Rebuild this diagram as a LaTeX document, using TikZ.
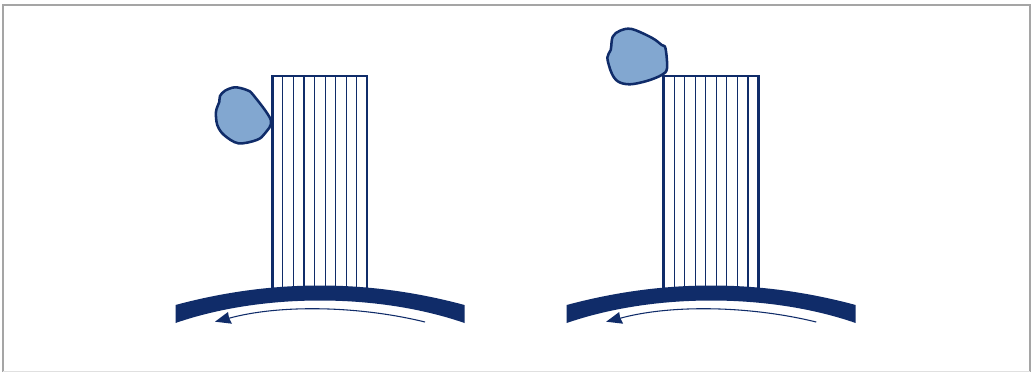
\documentclass[tikz,border=0pt]{standalone}
\definecolor{navy}{RGB}{16,44,105}
\definecolor{blobfill}{RGB}{130,167,208}
\definecolor{framegray}{RGB}{165,165,165}
\tikzset{
  x=0.75pt,y=-0.75pt,
  outline/.style={draw=navy,line width=1.9pt,line join=miter},
  hatch/.style={draw=navy,line width=0.85pt},
  blobshape/.style={draw=navy,fill=blobfill,line width=1.9pt,line join=round},
  band/.style={fill=navy,draw=none},
  flow/.style={draw=navy,line width=0.8pt},
  head/.style={fill=navy,draw=none}
}
\newcommand{\bristleunit}{%
  \foreach \k in {1,...,8}{\draw[hatch] ({272.3+\k*10.56},76) -- ({272.3+\k*10.56},290);}
  \draw[outline] (272.3,290) -- (272.3,76) -- (367.2,76) -- (367.2,290);
  \path[band] (175.5,305) .. controls (272,279) and (368,279) .. (464.5,305)
     -- (464.5,323) .. controls (378,293) and (262,293) .. (175.5,323) -- cycle;
  \draw[flow] (425,322) .. controls (360,306) and (280,304) .. (228,318.5);
  \path[head] (215,321.7) -- (228,312) -- (229,318) -- (232,323.7) -- cycle;
}
\begin{document}
\begin{tikzpicture}
\useasboundingbox (0,0) rectangle (1032,372);
\path[fill=white] (0,0) rectangle (1032,372);
\draw[framegray,line width=1.1pt] (3,372) -- (3,5) -- (1030,5) -- (1030,372);
\draw[black!12,line width=0.6pt] (3,371.5) -- (1030,371.5);
\bristleunit
\begin{scope}[xshift=293.4pt]
\bristleunit
\end{scope}
\draw[blobshape] plot[smooth cycle,tension=0.55] coordinates {
 (270.8,120) (253.3,95) (246.7,90) (235,87.3) (225,90.7) (220,96) (219.3,101.7)
 (216,111.7) (217.3,125) (224,135) (238.3,143.3) (256.7,140) (265,133.3)};
\draw[blobshape] plot[smooth cycle,tension=0.55] coordinates {
 (665.5,48.3) (667,68.3) (661.7,75) (646.7,81) (630,84.3) (618.3,81.7) (611.7,73.3)
 (607.3,57.7) (610.7,50) (612.7,36.7) (620,30.7) (631.7,29) (651.7,37.7) (661.7,45)};
\end{tikzpicture}
\end{document}
